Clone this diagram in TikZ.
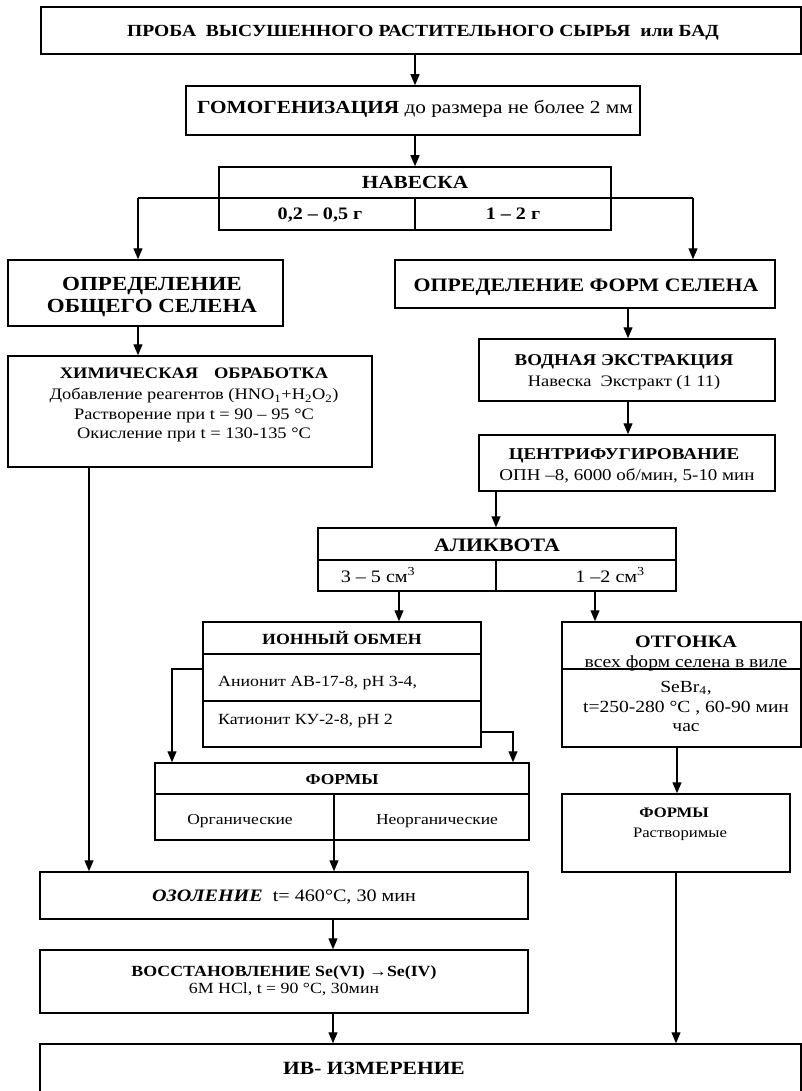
\documentclass[tikz,border=0pt]{standalone}
\usepackage{fontspec}
\setmainfont{Liberation Serif}[FakeStretch=1.15]
\usetikzlibrary{arrows.meta,calc}
\newcommand\fs[1]{\fontsize{#1}{#1}\selectfont}
\newcommand\bx[5]{\node[boxs,minimum width={(#4-#2)*1pt},minimum height={(#5-#3)*1pt}] (#1) at ({(#2+#4)/2},{(#3+#5)/2}) {};}
\tikzset{
  boxs/.style={draw,line width=1.5pt,inner sep=0pt},
  ln/.style={line width=1.3pt},
  arr/.style={line width=1.3pt,-{Triangle[length=11pt,width=9pt]}},
  txt/.style={inner sep=0pt,anchor=base}
}
\begin{document}
\begin{tikzpicture}[x=1pt,y=-1pt]
\useasboundingbox (0,0) rectangle (801,1091);
% boxes
\bx{T}{41}{7}{801}{54}
\bx{G}{186}{86}{640}{135}
\bx{N}{219}{167}{611}{230}
\bx{O1}{8}{260}{283}{326}
\bx{O2}{395}{260}{775}{308}
\bx{X}{8}{356}{372}{467}
\bx{V}{479}{339}{775}{401}
\bx{C}{479}{435}{775}{491}
\bx{A}{318}{528}{676}{591}
\bx{I}{203}{622}{481}{747}
\bx{R}{562}{622}{801}{747}
\bx{F}{155}{763}{529}{840}
\bx{S}{562}{794}{790}{872}
\bx{Oz}{40}{872}{528}{919}
\bx{Vs}{40}{950}{528}{1013}
\bx{IV}{40}{1044}{801}{1110}
% inner dividers
\coordinate (nl) at (138,198);
\coordinate (nr) at (693,198);
\draw[ln] (nl) -- (nr);
\draw[ln] (415,198) -- (415,0 |- N.south);
\draw[ln] (A.west |- 0,560) -- (A.east |- 0,560);
\draw[ln] (496,560) -- (496,0 |- A.south);
\draw[ln] (I.west |- 0,654) -- (I.east |- 0,654);
\draw[ln] (I.west |- 0,701) -- (I.east |- 0,701);
\draw[ln] (R.west |- 0,669) -- (R.east |- 0,669);
\draw[ln] (F.west |- 0,794) -- (F.east |- 0,794);
\draw[ln] (334,794) -- (334,0 |- F.south);
% connectors
\draw[arr] (415,0 |- T.south) -- (415,0 |- G.north);
\draw[arr] (415,0 |- G.south) -- (415,0 |- N.north);
\draw[arr] (nl) -- (nl |- O1.north);
\draw[arr] (nr) -- (nr |- O2.north);
\draw[arr] (138,0 |- O1.south) -- (138,0 |- X.north);
\draw[arr] (628,0 |- O2.south) -- (628,0 |- V.north);
\draw[arr] (628,0 |- V.south) -- (628,0 |- C.north);
\draw[arr] (496,0 |- C.south) -- (496,0 |- A.north);
\draw[arr] (399,0 |- A.south) -- (399,0 |- I.north);
\draw[arr] (595,0 |- A.south) -- (595,0 |- R.north);
\draw[arr] (I.west |- 0,669) -| (172,0 |- F.north);
\draw[arr] (I.east |- 0,732) -| (513,0 |- F.north);
\draw[arr] (677,0 |- R.south) -- (677,0 |- S.north);
\draw[arr] (89,0 |- X.south) -- (89,0 |- Oz.north);
\draw[arr] (334,0 |- F.south) -- (334,0 |- Oz.north);
\draw[arr] (333,0 |- Oz.south) -- (333,0 |- Vs.north);
\draw[arr] (333,0 |- Vs.south) -- (333,0 |- IV.north);
\draw[arr] (676,0 |- S.south) -- (676,0 |- IV.north);
% texts
\node[txt,font=\bfseries\fs{17}] (tT) at (423,36.6) {ПРОБА\ \ ВЫСУШЕННОГО РАСТИТЕЛЬНОГО СЫРЬЯ\ \ или БАД};
\node[txt,font=\fs{18.5}] (tG) at (415,114) {\textbf{ГОМОГЕНИЗАЦИЯ} до размера не более 2 мм};
\node[txt,font=\bfseries\fs{18.5}] (tN) at (415,189) {НАВЕСКА};
\node[txt,font=\bfseries\fs{17.5}] (tN1) at (320,220) {0,2 -- 0,5 г};
\node[txt,font=\bfseries\fs{17.5}] (tN2) at (513,220) {1 -- 2 г};
\node[txt,font=\bfseries\fs{20}] (tO1a) at (152,290) {ОПРЕДЕЛЕНИЕ};
\node[txt,font=\bfseries\fs{20}] (tO1b) at (152,312) {ОБЩЕГО СЕЛЕНА};
\node[txt,font=\bfseries\fs{19}] (tO2) at (586,291) {ОПРЕДЕЛЕНИЕ ФОРМ СЕЛЕНА};
\node[txt,font=\bfseries\fs{16}] (tX1) at (194,378) {ХИМИЧЕСКАЯ\quad ОБРАБОТКА};
\node[txt,font=\fs{16}] (tX2) at (194,399.5) {Добавление реагентов (HNO\textsubscript{1}+H\textsubscript{2}O\textsubscript{2})};
\node[txt,font=\fs{16}] (tX3) at (194,419.5) {Растворение при t = 90 -- 95 °C};
\node[txt,font=\fs{16}] (tX4) at (194,438.5) {Окисление при t = 130-135 °C};
\node[txt,font=\bfseries\fs{16.5}] (tV1) at (624,365.5) {ВОДНАЯ ЭКСТРАКЦИЯ};
\node[txt,font=\fs{16}] (tV2) at (624,386) {Навеска\ \ Экстракт (1 11)};
\node[txt,font=\bfseries\fs{16.5}] (tC1) at (624,459) {ЦЕНТРИФУГИРОВАНИЕ};
\node[txt,font=\fs{16.5}] (tC2) at (627,480) {ОПН --8, 6000 об/мин, 5-10 мин};
\node[txt,font=\bfseries\fs{19}] (tA) at (497,551) {АЛИКВОТА};
\node[txt,font=\fs{17.5}] (tA1) at (378,582) {3 -- 5 см\textsuperscript{3}};
\node[txt,font=\fs{17.5}] (tA2) at (610,582) {1 --2 см\textsuperscript{3}};
\node[txt,font=\bfseries\fs{15.5}] (tI) at (342,644) {ИОННЫЙ ОБМЕН};
\node[txt,font=\fs{15.5},anchor=base west] (tI1) at (218,686) {Анионит АВ-17-8, рН 3-4,};
\node[txt,font=\fs{15.5},anchor=base west] (tI2) at (218,724) {Катионит КУ-2-8, рН 2};
\node[txt,font=\bfseries\fs{15.2}] (tF) at (342,784) {ФОРМЫ};
\node[txt,font=\fs{15.2}] (tF1) at (240,824) {Органические};
\node[txt,font=\fs{15.2}] (tF2) at (437,824) {Неорганические};
\node[txt,font=\bfseries\fs{17.5}] (tR1) at (686,647) {ОТГОНКА};
\node[txt,font=\fs{17}] (tR2) at (686,667) {всех форм селена в виле};
\node[txt,font=\fs{17}] (tR3) at (686,692) {SeBr\textsubscript{4},};
\node[txt,font=\fs{17}] (tR4) at (686,712.6) {t=250-280 °C , 60-90 мин};
\node[txt,font=\fs{17}] (tR5) at (686,731) {час};
\node[txt,font=\bfseries\fs{14.5}] (tS1) at (674,817) {ФОРМЫ};
\node[txt,font=\fs{14.5}] (tS2) at (680,837) {Растворимые};
\node[txt,font=\fs{17.5}] (tOz) at (284,901) {\textbf{\textit{ОЗОЛЕНИЕ}}\ \ t= 460°C, 30 мин};
\node[txt,font=\bfseries\fs{15.5}] (tVs1) at (284,976) {ВОССТАНОВЛЕНИЕ Se(VI) →Se(IV)};
\node[txt,font=\fs{15.5}] (tVs2) at (284,993) {6М HCl, t = 90 °C, 30мин};
\node[txt,font=\bfseries\fs{18.7}] (tIV) at (374,1074) {ИВ- ИЗМЕРЕНИЕ};
\end{tikzpicture}
\end{document}
